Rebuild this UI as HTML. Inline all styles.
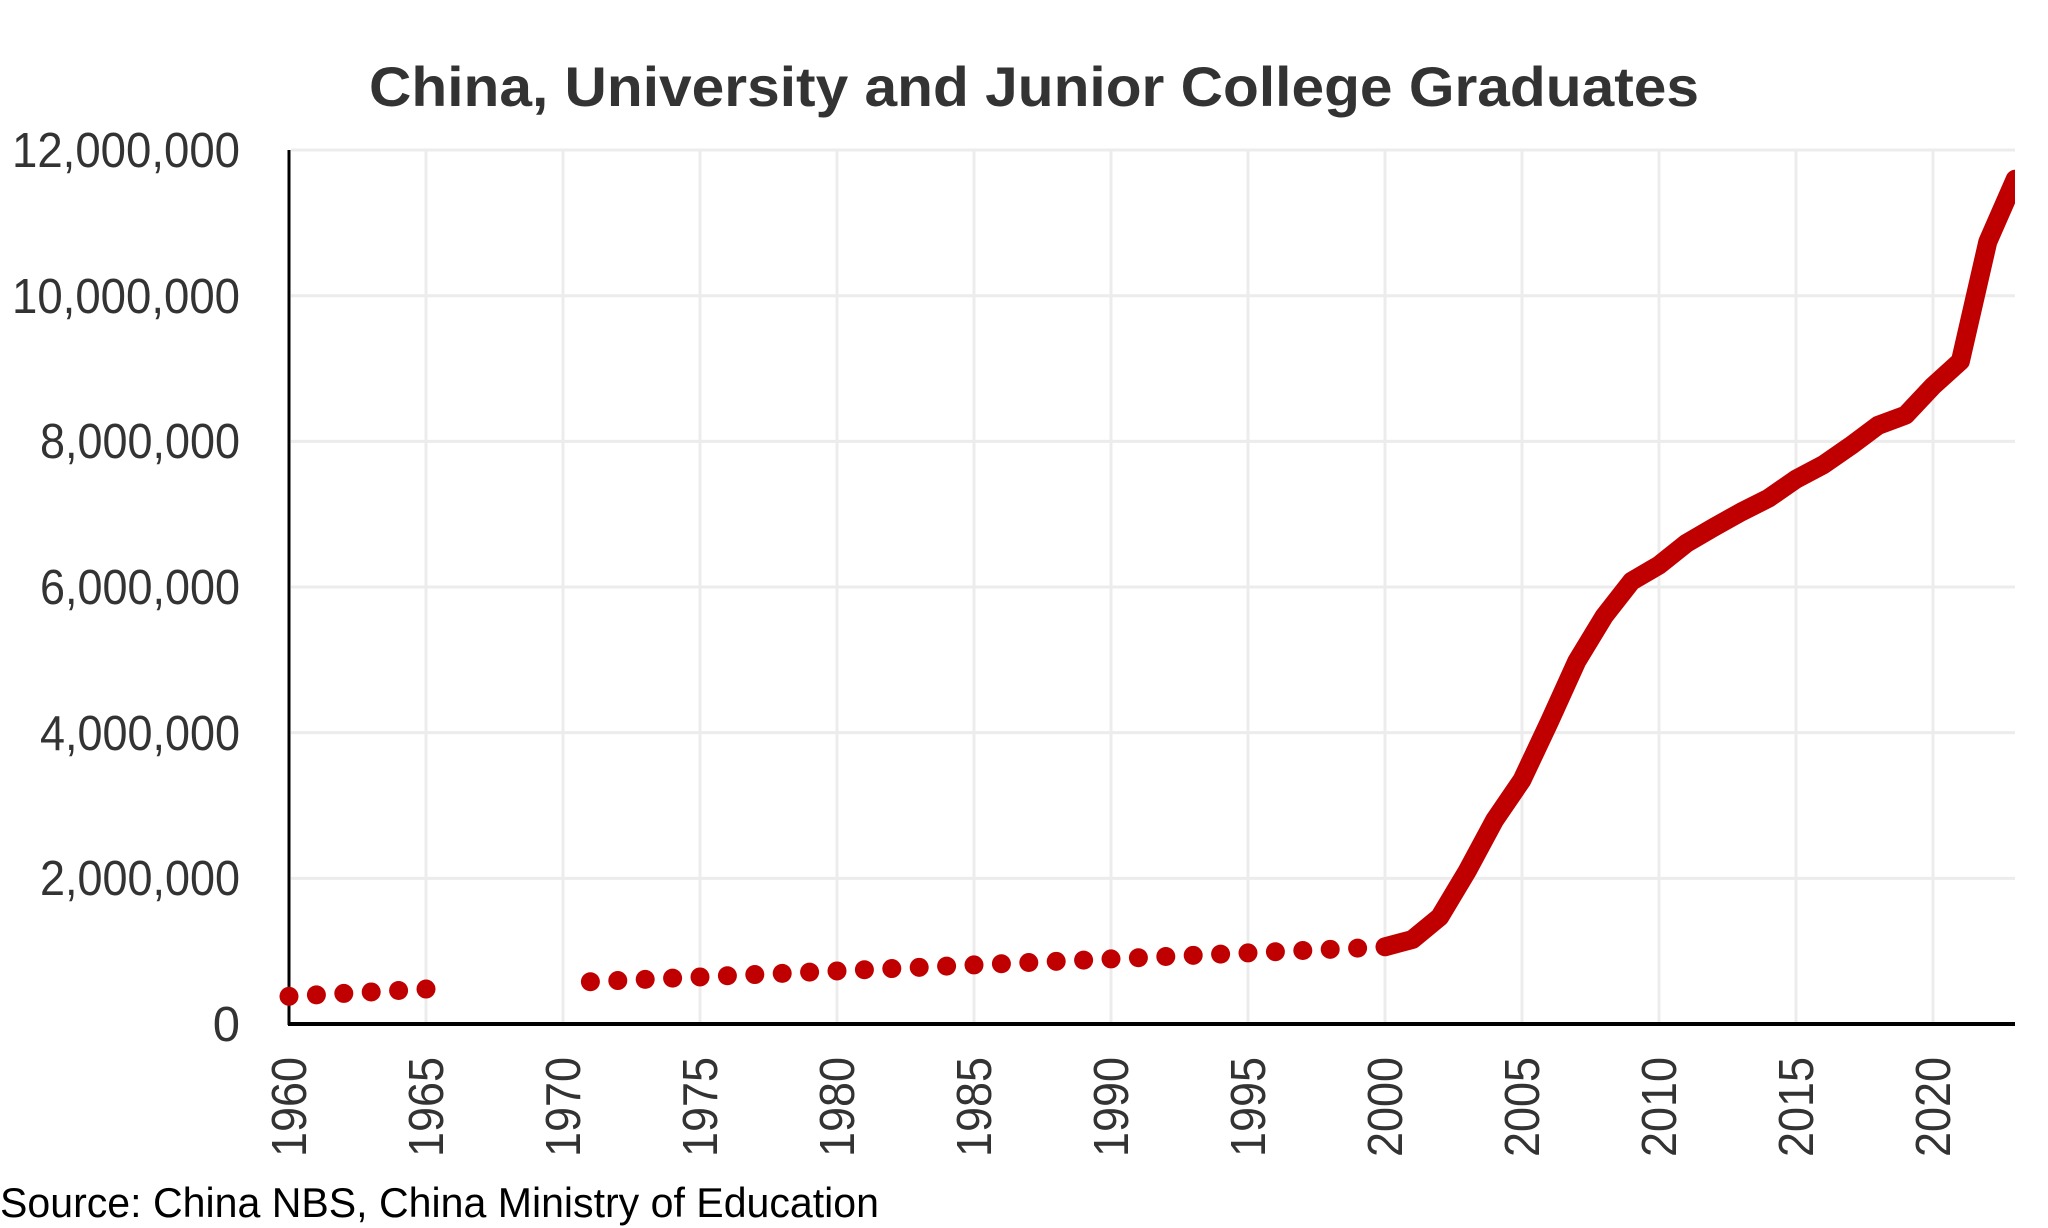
<!DOCTYPE html>
<html><head><meta charset="utf-8"><style>
html,body{margin:0;padding:0;background:#fff;width:2048px;height:1228px;overflow:hidden}
svg{display:block}
text{font-family:"Liberation Sans",Arial,sans-serif}
</style></head><body>
<svg id="s" width="2048" height="1228" viewBox="0 0 2048 1228" xmlns="http://www.w3.org/2000/svg">
<defs><clipPath id="cp"><rect x="270" y="140" width="1745" height="900"/></clipPath></defs>
<text x="1034" y="106" text-anchor="middle" font-size="56" font-weight="bold" fill="#333" textLength="1330" lengthAdjust="spacingAndGlyphs">China, University and Junior College Graduates</text>
<g id="grid" stroke="#ececec" stroke-width="3"></g>
<g font-size="49" fill="#333" text-anchor="end">
<text x="240" y="167" textLength="228" lengthAdjust="spacingAndGlyphs">12,000,000</text>
<text x="240" y="313" textLength="228" lengthAdjust="spacingAndGlyphs">10,000,000</text>
<text x="240" y="458" textLength="200" lengthAdjust="spacingAndGlyphs">8,000,000</text>
<text x="240" y="604" textLength="200" lengthAdjust="spacingAndGlyphs">6,000,000</text>
<text x="240" y="750" textLength="200" lengthAdjust="spacingAndGlyphs">4,000,000</text>
<text x="240" y="895" textLength="200" lengthAdjust="spacingAndGlyphs">2,000,000</text>
<text x="240" y="1041">0</text>
</g>
<g id="xl" font-size="49" fill="#333"></g>
<line x1="289" y1="150" x2="289" y2="1025" stroke="#000" stroke-width="3"/>
<line x1="288" y1="1024" x2="2015" y2="1024" stroke="#000" stroke-width="4"/>
<g id="data" clip-path="url(#cp)"></g>
<text x="0" y="1217" font-size="42" fill="#000" textLength="879" lengthAdjust="spacingAndGlyphs">Source: China NBS, China Ministry of Education</text>
</svg>
<script>
var NS="http://www.w3.org/2000/svg";
function X(y){return 289+(y-1960)*27.4}
function Y(v){return 1024-v*72.83}
var g=document.getElementById('grid'),xl=document.getElementById('xl'),d=document.getElementById('data');
for(var v=2;v<=12;v+=2){var l=document.createElementNS(NS,'line');l.setAttribute('x1',291);l.setAttribute('x2',2015);l.setAttribute('y1',Y(v));l.setAttribute('y2',Y(v));g.appendChild(l);}
for(var y=1965;y<=2020;y+=5){var l=document.createElementNS(NS,'line');l.setAttribute('x1',X(y));l.setAttribute('x2',X(y));l.setAttribute('y1',150);l.setAttribute('y2',1022);g.appendChild(l);}
for(var y=1960;y<=2020;y+=5){var t=document.createElementNS(NS,'text');var x=X(y)+17;t.setAttribute('transform','translate('+x+',1157) rotate(-90)');t.textContent=y;t.setAttribute('textLength','100');t.setAttribute('lengthAdjust','spacingAndGlyphs');xl.appendChild(t);}
var dots=[[1960,0.38],[1961,0.40],[1962,0.42],[1963,0.44],[1964,0.46],[1965,0.48]];
for(var y=1971;y<=1999;y++)dots.push([y,0.58+(y-1971)*0.0165]);
dots.forEach(function(p){var c=document.createElementNS(NS,'circle');c.setAttribute('cx',X(p[0]));c.setAttribute('cy',Y(p[1]));c.setAttribute('r',9.5);c.setAttribute('fill','#c00000');d.appendChild(c);});
var ln=[[2000,1.06],[2001,1.16],[2002,1.47],[2003,2.1],[2004,2.8],[2005,3.35],[2006,4.15],[2007,4.98],[2008,5.6],[2009,6.08],[2010,6.3],[2011,6.6],[2012,6.82],[2013,7.03],[2014,7.22],[2015,7.48],[2016,7.68],[2017,7.94],[2018,8.22],[2019,8.36],[2020,8.76],[2021,9.1],[2022,10.74],[2023,11.6]];
var pts=ln.map(function(p){return X(p[0]).toFixed(1)+','+Y(p[1]).toFixed(1)}).join(' ');
var pl=document.createElementNS(NS,'polyline');pl.setAttribute('points',pts);pl.setAttribute('fill','none');pl.setAttribute('stroke','#c00000');pl.setAttribute('stroke-width','19');pl.setAttribute('stroke-linejoin','round');pl.setAttribute('stroke-linecap','round');d.appendChild(pl);
</script>
</body></html>
